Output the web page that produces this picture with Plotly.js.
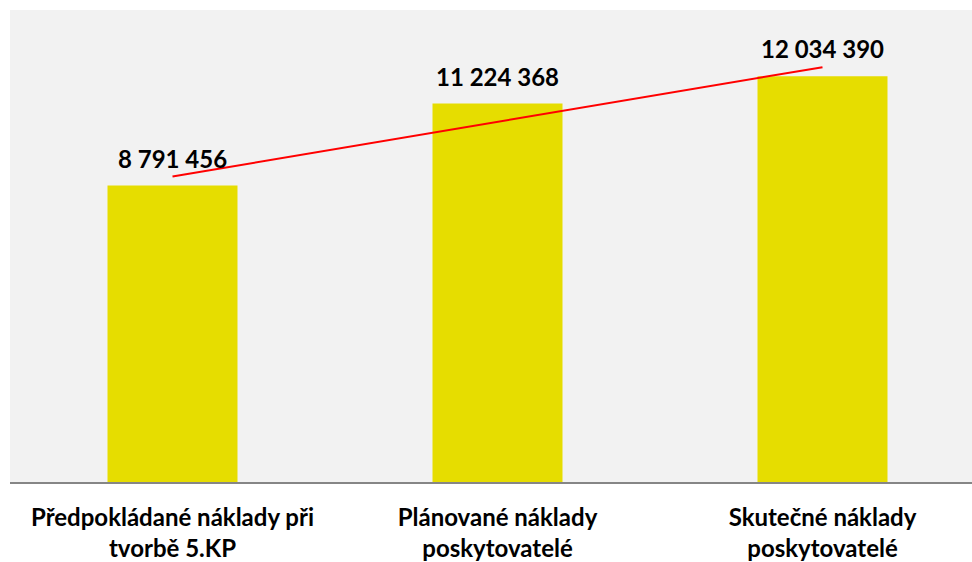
<!DOCTYPE html>
<html>
<head>
<meta charset="utf-8">
<script src="https://cdn.plot.ly/plotly-3.0.1.min.js"></script>
<style>
html,body{margin:0;padding:0;background:#fff;overflow:hidden;}
#chart{width:972px;height:562px;}
</style>
</head>
<body>
<div id="chart"></div>
<script>
const categories = [
  "Předpokládané náklady při<br>tvorbě 5.KP",
  "Plánované náklady<br>poskytovatelé",
  "Skutečné náklady<br>poskytovatelé"
];
const values = [8791456, 11224368, 12034390];

function fmt(v){ return String(v).replace(/\B(?=(\d{3})+(?!\d))/g, ' '); }

// linear trendline (least squares) through the bar values
const n = values.length;
const xs = values.map((_, i) => i + 1);
const mx = xs.reduce((a,b)=>a+b,0)/n;
const my = values.reduce((a,b)=>a+b,0)/n;
let num = 0, den = 0;
for (let i = 0; i < n; i++){ num += (xs[i]-mx)*(values[i]-my); den += (xs[i]-mx)*(xs[i]-mx); }
const slope = num/den, intercept = my - slope*mx;
const trend = xs.map(x => intercept + slope*x);

const FONT = "Lato, 'Open Sans', sans-serif";

const traces = [
  {
    type: 'bar',
    x: categories,
    y: values,
    width: 0.4,
    marker: {color: '#e6dd00'},
    hoverinfo: 'skip',
    showlegend: false
  },
  {
    type: 'scatter',
    mode: 'lines',
    x: categories,
    y: trend,
    line: {color: '#ff0000', width: 2},
    hoverinfo: 'skip',
    showlegend: false
  }
];

const annotations = values.map((v, i) => ({
  x: categories[i],
  y: v,
  xref: 'x', yref: 'y',
  text: fmt(v),
  showarrow: false,
  yanchor: 'bottom',
  yshift: 11,
  font: {family: FONT, size: 24, color: '#000000', weight: 'bold'}
}));

const layout = {
  width: 972,
  height: 562,
  margin: {l: 10, r: 0, t: 10, b: 80},
  paper_bgcolor: '#ffffff',
  plot_bgcolor: '#f2f2f2',
  xaxis: {
    type: 'category',
    range: [-0.5, 2.46],
    showgrid: false,
    zeroline: false,
    showline: true,
    linecolor: '#868686',
    linewidth: 2,
    ticks: '',
    ticklabelstandoff: 13,
    tickfont: {family: FONT, size: 24, color: '#000000', weight: 'bold'},
    fixedrange: true
  },
  yaxis: {
    range: [0, 14000000],
    showgrid: false,
    zeroline: false,
    showline: false,
    showticklabels: false,
    ticks: '',
    fixedrange: true
  },
  annotations: annotations,
  showlegend: false
};

Plotly.newPlot('chart', traces, layout, {displayModeBar: false, staticPlot: true});
</script>
</body>
</html>
